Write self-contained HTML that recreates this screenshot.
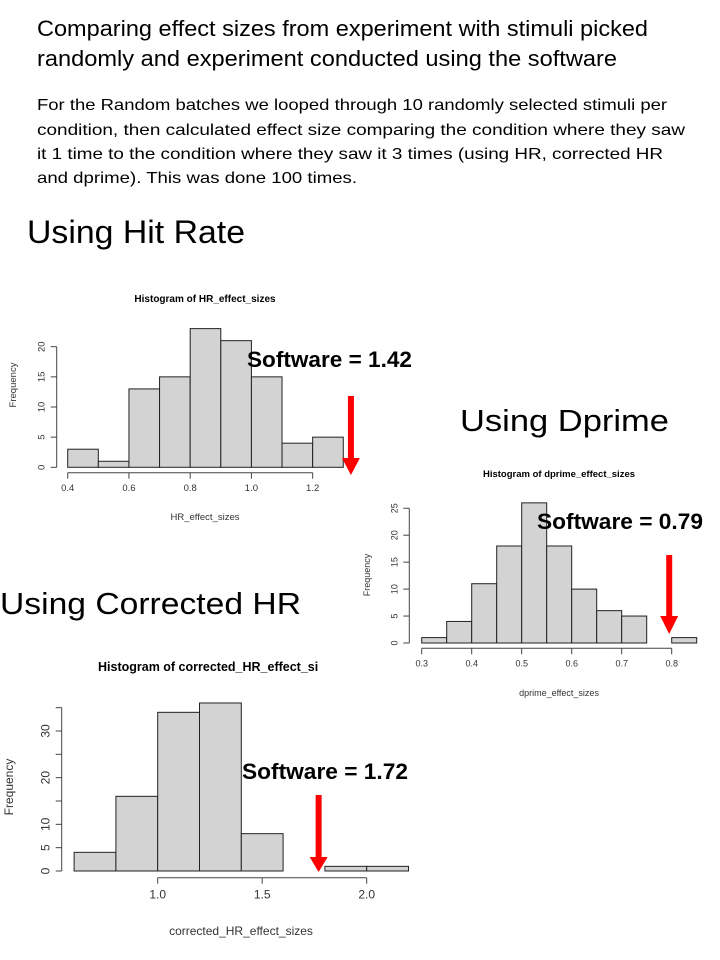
<!DOCTYPE html>
<html><head><meta charset="utf-8"><style>
html,body{margin:0;padding:0;background:#fff;}
svg{display:block;}
text{font-family:"Liberation Sans",sans-serif;}
</style></head><body>
<svg id="s" width="720" height="960" viewBox="0 0 720 960">
<g fill="#000">
<text x="37" y="36" font-size="22" textLength="611" lengthAdjust="spacingAndGlyphs">Comparing effect sizes from experiment with stimuli picked</text>
<text x="37" y="66" font-size="22" textLength="580" lengthAdjust="spacingAndGlyphs">randomly and experiment conducted using the software</text>
<text x="37" y="110" font-size="16" textLength="630" lengthAdjust="spacingAndGlyphs">For the Random batches we looped through 10 randomly selected stimuli per</text>
<text x="37" y="135" font-size="16" textLength="648" lengthAdjust="spacingAndGlyphs">condition, then calculated effect size comparing the condition where they saw</text>
<text x="37" y="159" font-size="16" textLength="626" lengthAdjust="spacingAndGlyphs">it 1 time to the condition where they saw it 3 times (using HR, corrected HR</text>
<text x="37" y="183" font-size="16" textLength="320" lengthAdjust="spacingAndGlyphs">and dprime). This was done 100 times.</text>
<text x="27" y="243" font-size="32" textLength="218" lengthAdjust="spacingAndGlyphs">Using Hit Rate</text>
<text x="460" y="431" font-size="31" textLength="209" lengthAdjust="spacingAndGlyphs">Using Dprime</text>
<text x="0" y="614" font-size="31" textLength="301" lengthAdjust="spacingAndGlyphs">Using Corrected HR</text>
</g>
</svg>
<script>
// Chart 1: HR effect sizes
const hrBinStart = 0.4, hrBinWidth = 0.1;
const hrCounts = [3,1,13,15,23,21,15,4,5];
const hrXTicks = [0.4,0.6,0.8,1.0,1.2];
const hrXTickLabels = ["0.4","0.6","0.8","1.0","1.2"];
const hrYTicks = [0,5,10,15,20];
const hrSoftware = 1.42;
const hrArrowAt = 1.325;
// Chart 2: dprime effect sizes
const dpBinStart = 0.3, dpBinWidth = 0.05;
const dpCounts = [1,4,11,18,26,18,10,6,5,0,1];
const dpXTicks = [0.3,0.4,0.5,0.6,0.7,0.8];
const dpXTickLabels = ["0.3","0.4","0.5","0.6","0.7","0.8"];
const dpYTicks = [0,5,10,15,20,25];
const dpSoftware = 0.79;
const dpArrowAt = 0.795;
// Chart 3: corrected HR effect sizes
const chBinStart = 0.6, chBinWidth = 0.2;
const chCounts = [4,16,34,36,8,0,1,1];
const chXTicks = [1.0,1.5,2.0];
const chXTickLabels = ["1.0","1.5","2.0"];
const chYTicks = [0,5,10,15,20,25,30,35];
const chYTickLabels = ["0","5","10","","20","","30",""];
const chSoftware = 1.72;
const chArrowAt = 1.77;

const NS="http://www.w3.org/2000/svg";
const svg=document.getElementById('s');
function mk(tag,attrs,parent,txt){const e=document.createElementNS(NS,tag);for(const k in attrs)e.setAttribute(k,attrs[k]);if(txt!=null)e.textContent=txt;parent.appendChild(e);return e;}

function hist(cfg){
  const g=mk('g',{},svg);
  
  
  const xs=v=>cfg.x0px+(v-cfg.x0v)*cfg.xk;
  const ys=v=>cfg.y0px-v*cfg.yk;
  const t=mk('text',{x:cfg.titleX,y:cfg.titleY,'font-size':cfg.titleFs,'font-weight':'bold','text-anchor':cfg.titleAnchor},g,cfg.title);
  
  
  cfg.counts.forEach((c,i)=>{
    const a=cfg.binStart+i*cfg.binWidth,b=a+cfg.binWidth;
    const r=mk('rect',{x:xs(a),y:ys(c),width:xs(b)-xs(a),height:ys(0)-ys(c),fill:'#d3d3d3',stroke:'#222','stroke-width':1},g);
    
    
  });
  const ya=mk('g',{},g);
  
  
  const yt=cfg.yTicks;
  mk('line',{x1:cfg.yAxisX,x2:cfg.yAxisX,y1:ys(yt[0]),y2:ys(yt[yt.length-1]),stroke:'#444'},ya);
  yt.forEach((v,i)=>{
    mk('line',{x1:cfg.yAxisX,x2:cfg.yAxisX-6,y1:ys(v),y2:ys(v),stroke:'#444'},ya);
    const lab=cfg.yLabels?cfg.yLabels[i]:String(v);
    if(lab){const tx=cfg.yAxisX-12, ty=ys(v);
      const e=mk('text',{x:tx,y:ty,'font-size':cfg.tickFs,'text-anchor':'middle',transform:`rotate(-90 ${tx} ${ty})`,fill:'#333'},ya,lab);
      
      }
  });
  const xa=mk('g',{},g);
  
  
  const xt=cfg.xTicks;
  mk('line',{x1:xs(xt[0]),x2:xs(xt[xt.length-1]),y1:cfg.xAxisY,y2:cfg.xAxisY,stroke:'#444'},xa);
  xt.forEach((v,i)=>{
    mk('line',{x1:xs(v),x2:xs(v),y1:cfg.xAxisY,y2:cfg.xAxisY+6,stroke:'#444'},xa);
    const e=mk('text',{x:xs(v),y:cfg.xAxisY+cfg.tickFs+9,'font-size':cfg.tickFs,'text-anchor':'middle',fill:'#333'},xa,cfg.xLabels[i]);
    
    
  });
  const xt2=mk('text',{x:cfg.xTitleX,y:cfg.xTitleY,'font-size':cfg.tickFs,'text-anchor':'middle',fill:'#333'},g,cfg.xTitle);
  
  
  const fx=cfg.freqX,fy=cfg.freqY;
  const ft=mk('text',{x:fx,y:fy,'font-size':cfg.tickFs,'text-anchor':'middle',transform:`rotate(-90 ${fx} ${fy})`,fill:'#333'},g,'Frequency');
  
  
  const ax=xs(cfg.arrowAt);
  const ar=mk('g',{},g);
  
  
  mk('rect',{x:ax-3,y:cfg.arrowTop,width:6,height:cfg.arrowHead-cfg.arrowTop+1,fill:'#ff0000'},ar);
  mk('polygon',{points:`${ax-9},${cfg.arrowHead} ${ax+9},${cfg.arrowHead} ${ax},${cfg.arrowBottom}`,fill:'#ff0000'},ar);
  const an=mk('text',{x:cfg.annX,y:cfg.annY,'font-size':22,'font-weight':'bold',textLength:cfg.annW,lengthAdjust:'spacingAndGlyphs',fill:'#000'},g,'Software = '+cfg.software.toFixed(2));
  
  
}

hist({name:'hr-histogram',title:'Histogram of HR_effect_sizes',titleX:205,titleY:302,titleFs:10,titleAnchor:'middle',
  counts:hrCounts,binStart:hrBinStart,binWidth:hrBinWidth,x0v:0.4,x0px:67.7,xk:306.2,y0px:467.3,yk:6.03,
  yTicks:hrYTicks,xTicks:hrXTicks,xLabels:hrXTickLabels,yAxisX:56.7,xAxisY:472.7,tickFs:9.5,
  xTitle:'HR_effect_sizes',xTitleX:205,xTitleY:520,freqX:16,freqY:385,software:hrSoftware,arrowAt:hrArrowAt,
  arrowTop:396,arrowHead:458,arrowBottom:475,annX:247,annY:367,annW:165});
hist({name:'dprime-histogram',title:'Histogram of dprime_effect_sizes',titleX:559,titleY:477,titleFs:9.5,titleAnchor:'middle',
  counts:dpCounts,binStart:dpBinStart,binWidth:dpBinWidth,x0v:0.3,x0px:421.7,xk:500,y0px:643,yk:5.39,
  yTicks:dpYTicks,xTicks:dpXTicks,xLabels:dpXTickLabels,yAxisX:409.3,xAxisY:648.3,tickFs:9,
  xTitle:'dprime_effect_sizes',xTitleX:559,xTitleY:696,freqX:370,freqY:575,software:dpSoftware,arrowAt:dpArrowAt,
  arrowTop:555,arrowHead:616,arrowBottom:634,annX:537,annY:529,annW:166});
hist({name:'corrected-hr-histogram',title:'Histogram of corrected_HR_effect_si',titleX:98,titleY:671,titleFs:12.5,titleAnchor:'start',
  counts:chCounts,binStart:chBinStart,binWidth:chBinWidth,x0v:1.0,x0px:157.7,xk:209,y0px:871,yk:4.667,
  yTicks:chYTicks,yLabels:chYTickLabels,xTicks:chXTicks,xLabels:chXTickLabels,yAxisX:61.7,xAxisY:877.7,tickFs:12,
  xTitle:'corrected_HR_effect_sizes',xTitleX:241,xTitleY:935,freqX:13,freqY:787,software:chSoftware,arrowAt:chArrowAt,
  arrowTop:795,arrowHead:857,arrowBottom:872,annX:242,annY:779,annW:166});
</script>
</body></html>
